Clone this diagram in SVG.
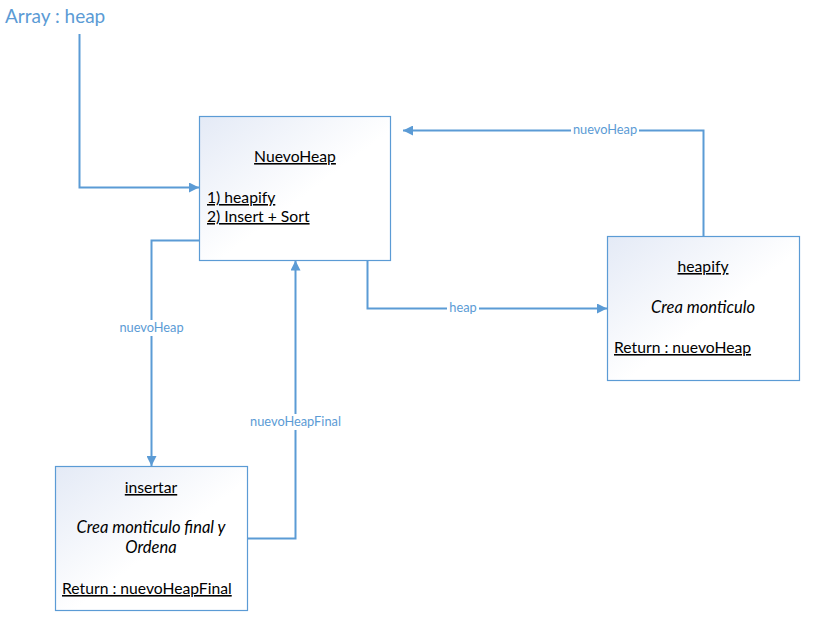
<svg xmlns="http://www.w3.org/2000/svg" width="821" height="620" viewBox="0 0 821 620">
<defs>
<linearGradient id="g" x1="0" y1="0" x2="1" y2="1">
<stop offset="0" stop-color="#E4EAF6"/>
<stop offset="0.55" stop-color="#FFFFFF"/>
<stop offset="1" stop-color="#FFFFFF"/>
</linearGradient>
<marker id="arr" viewBox="0 0 10 10" refX="10" refY="5" markerWidth="10" markerHeight="10" markerUnits="userSpaceOnUse" orient="auto">
<path d="M0,0 L10,5 L0,10 z" fill="#5B9BD5"/>
</marker>
<style>
.box{fill:url(#g);stroke:#5B9BD5;stroke-width:1.2}
.con{fill:none;stroke:#5B9BD5;stroke-width:2;marker-end:url(#arr)}
.t{font-family:"Lato","Liberation Sans",sans-serif;font-size:15.7px;fill:#000}
.u{text-decoration:underline}
.i{font-style:italic;font-size:16.5px}
.lbl{font-family:"Lato","Liberation Sans",sans-serif;font-size:12.8px;fill:#5B9BD5}
.lblbg{fill:#FFFFFF}
</style>
</defs>
<rect width="821" height="620" fill="#FFFFFF"/>
<text x="5" y="23" font-family="Lato, 'Liberation Sans', sans-serif" font-size="19" fill="#5B9BD5">Array : heap</text>
<g id="connectors">
<path class="con" d="M79.5,34 V187.5 H199"/>
<path class="con" d="M199,240.5 H151.5 V466"/>
<path class="con" d="M247,538.5 H295.5 V260.5"/>
<path class="con" d="M367.5,260.5 V308.5 H607"/>
<path class="con" d="M703.5,236 V130.5 H403"/>
<rect class="lblbg" x="117" y="320" width="69" height="16"/>
<text class="lbl" x="151.5" y="332" text-anchor="middle">nuevoHeap</text>
<rect class="lblbg" x="247" y="414" width="97" height="16"/>
<text class="lbl" x="295.5" y="426" text-anchor="middle">nuevoHeapFinal</text>
<rect class="lblbg" x="447" y="300" width="32" height="16"/>
<text class="lbl" x="463" y="312" text-anchor="middle">heap</text>
<rect class="lblbg" x="571" y="122" width="68" height="16"/>
<text class="lbl" x="605" y="134" text-anchor="middle">nuevoHeap</text>
</g>
<g id="NuevoHeap">
<rect class="box" x="199.5" y="116.5" width="191" height="144"/>
<text class="t u" x="295" y="162" text-anchor="middle">NuevoHeap</text>
<text class="t u" x="207" y="203">1) heapify</text>
<text class="t u" x="207" y="222">2) Insert + Sort</text>
</g>
<g id="heapify">
<rect class="box" x="607.5" y="236.5" width="192" height="144"/>
<text class="t u" x="703" y="272" text-anchor="middle">heapify</text>
<text class="t i" x="703" y="313" text-anchor="middle">Crea monticulo</text>
<text class="t u" x="614" y="353">Return : nuevoHeap</text>
</g>
<g id="insertar">
<rect class="box" x="55.5" y="466.5" width="192" height="144"/>
<text class="t u" x="151" y="493" text-anchor="middle">insertar</text>
<text class="t i" x="151" y="533" text-anchor="middle">Crea monticulo final y</text>
<text class="t i" x="151" y="553" text-anchor="middle">Ordena</text>
<text class="t u" x="62" y="594">Return : nuevoHeapFinal</text>
</g>
</svg>
